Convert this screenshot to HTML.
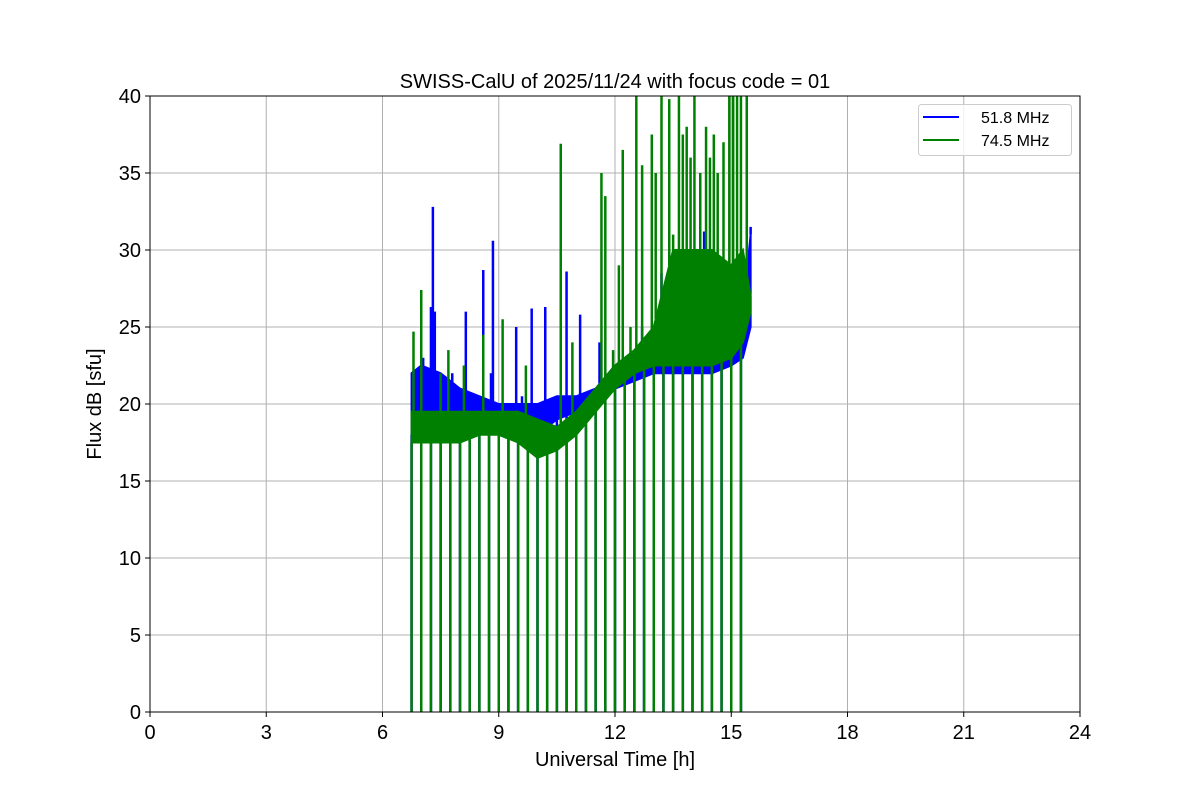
<!DOCTYPE html>
<html><head><meta charset="utf-8"><style>
body{margin:0;background:#fff;}
svg{display:block;font-family:"Liberation Sans","DejaVu Sans",sans-serif;}
</style></head><body>
<svg id="chart" width="1200" height="800">
<defs><clipPath id="clip"><rect x="150" y="96" width="930" height="616"/></clipPath></defs>
<rect width="1200" height="800" fill="#fff"/>
<g id="grid"></g>
<g id="series" clip-path="url(#clip)"></g>
<rect x="150" y="96" width="930" height="616" fill="none" stroke="#000" stroke-width="1"/>
<g id="ticks"></g>
<text x="615" y="88" font-size="20" text-anchor="middle">SWISS-CalU of 2025/11/24 with focus code = 01</text>
<text x="615" y="766" font-size="20" text-anchor="middle">Universal Time [h]</text>
<text x="101" y="404" font-size="20" text-anchor="middle" transform="rotate(-90 101 404)">Flux dB [sfu]</text>
<g>
<rect x="918.5" y="104.5" width="153" height="51" rx="3" fill="#fff" fill-opacity="0.8" stroke="#ccc"/>
<line x1="923" y1="117" x2="959" y2="117" stroke="#0000ff" stroke-width="2"/>
<text x="981" y="123" font-size="16">51.8 MHz</text>
<line x1="923" y1="140" x2="959" y2="140" stroke="#008000" stroke-width="2"/>
<text x="981" y="146" font-size="16">74.5 MHz</text>
</g>
</svg>
<script>
const xTicks=[0,3,6,9,12,15,18,21,24];
const yTicks=[0,5,10,15,20,25,30,35,40];
const envTimes=[6.75,7.0,7.5,8.0,8.5,9.0,9.5,10.0,10.5,11.0,11.5,12.0,12.5,13.0,13.5,14.0,14.5,15.0,15.3,15.5];
const blueLo=[18,18.5,18.5,18.5,18.5,18.5,18.5,18,19,19.5,20,21,21.5,22,22,22,22,22.5,23,25];
const blueHi=[22,22.5,22,21,20.5,20,20,20,20.5,20.5,21,22.5,23,23.5,24.5,24.5,24.5,25,26,31];
const greenLo=[17.5,17.5,17.5,17.5,18,18,17.5,16.5,17,18,19.5,21,22,22.5,22.5,22.5,22.5,23,24,26];
const greenHi=[19.5,19.5,19.5,19.5,19.5,19.5,19.5,19,18.5,19.5,21,22.5,23.5,25,30,30,30,29,30,27];
const blueSpikeT=[7.05,7.25,7.3,7.35,7.8,8.15,8.6,8.8,8.85,9.45,9.6,9.85,10.2,10.6,10.75,11.1,11.6,12.7,13.2,14.3,15.5];
const blueSpikeV=[23,26.3,32.8,26,22,26,28.7,22,30.6,25,20.5,26.2,26.3,25.5,28.6,25.8,24,25,28.5,31.2,31.5];
const greenSpikeT=[6.8,7.0,7.5,7.7,8.1,8.6,9.1,9.7,10.6,10.9,11.65,11.75,11.95,12.1,12.2,12.4,12.55,12.7,12.95,13.05,13.2,13.4,13.5,13.65,13.75,13.85,13.95,14.05,14.2,14.35,14.45,14.55,14.65,14.8,14.95,15.05,15.15,15.25,15.4];
const greenSpikeV=[24.7,27.4,22,23.5,22.5,24.5,25.5,22.5,36.9,24,35,33.5,23.5,29,36.5,25,40,35.5,37.5,35,40,39.8,31,40,37.5,38,36,40,35,38,36,37.5,35,37,40,40,40,40,40];
const dropTimes=[6.75,7.0,7.25,7.5,7.75,8.0,8.25,8.5,8.75,9.0,9.25,9.5,9.75,10.0,10.25,10.5,10.75,11.0,11.25,11.5,11.75,12.0,12.25,12.5,12.75,13.0,13.25,13.5,13.75,14.0,14.25,14.5,14.75,15.0,15.25];

const NS='http://www.w3.org/2000/svg';
const X=t=>150+t*930/24, Y=v=>712-v*616/40;
function mk(tag,attrs,parent){const e=document.createElementNS(NS,tag);for(const k in attrs)e.setAttribute(k,attrs[k]);parent.appendChild(e);return e;}
const grid=document.getElementById('grid'),ticks=document.getElementById('ticks'),ser=document.getElementById('series');
xTicks.forEach(t=>{
 const l=mk('line',{x1:X(t),x2:X(t),y1:96,y2:712,stroke:'#b0b0b0','stroke-width':1},grid);
 
 
 mk('line',{x1:X(t),x2:X(t),y1:712,y2:717,stroke:'#000'},ticks);
 const tx=mk('text',{x:X(t),y:739,'font-size':20,'text-anchor':'middle'},ticks);tx.textContent=t;
 
 
});
yTicks.forEach(v=>{
 const l=mk('line',{x1:150,x2:1080,y1:Y(v),y2:Y(v),stroke:'#b0b0b0','stroke-width':1},grid);
 
 
 mk('line',{x1:145,x2:150,y1:Y(v),y2:Y(v),stroke:'#000'},ticks);
 const tx=mk('text',{x:141,y:Y(v)+7,'font-size':20,'text-anchor':'end'},ticks);tx.textContent=v;
 
 
});
function interp(arr,t){for(let i=0;i<envTimes.length-1;i++){if(t<=envTimes[i+1]){const f=(t-envTimes[i])/(envTimes[i+1]-envTimes[i]);return arr[i]+f*(arr[i+1]-arr[i]);}}return arr[arr.length-1];}
function drawSeries(name,color,lo,hi,sT,sV){
 const g=mk('g',{},ser);
 
 
 let d='';envTimes.forEach((t,i)=>d+=(i?'L':'M')+X(t)+' '+Y(hi[i]));
 for(let i=envTimes.length-1;i>=0;i--)d+='L'+X(envTimes[i])+' '+Y(lo[i]);
 const band=mk('path',{d:d+'Z',fill:color,stroke:color,'stroke-width':2},g);
 
 
 sT.forEach((t,i)=>{
  const s=mk('line',{x1:X(t),x2:X(t),y1:Y(interp(hi,t)),y2:Y(sV[i]),stroke:color,'stroke-width':2.5},g);
  
  
 });
 dropTimes.forEach(t=>{
  const s=mk('line',{x1:X(t),x2:X(t),y1:Y(interp(lo,t)),y2:Y(0),stroke:color,'stroke-width':2.5},g);
  
  
 });
}
drawSeries('mhz-51-8','#0000ff',blueLo,blueHi,blueSpikeT,blueSpikeV);
drawSeries('mhz-74-5','#008000',greenLo,greenHi,greenSpikeT,greenSpikeV);
</script>
</body></html>
